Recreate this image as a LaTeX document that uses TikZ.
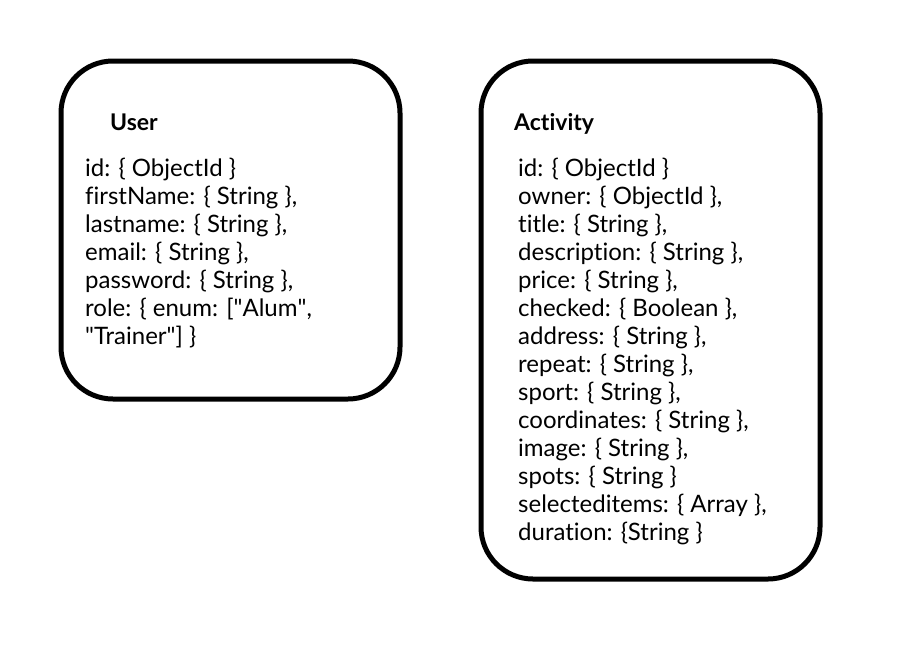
\documentclass[tikz,border=0pt]{standalone}
\usepackage{fontspec}
\setmainfont{Lato}[Ligatures={TeX,NoCommon}]
\usepackage{tikz}
\usetikzlibrary{positioning}

\tikzset{
  schemabox/.style={draw, line width=5pt, rounded corners=52pt, outer sep=0pt, inner sep=0pt, anchor=north west},
  schematitle/.style={anchor=base west, inner sep=0pt, font=\fontsize{23}{28}\selectfont\bfseries},
  schemafields/.style={anchor=base west, inner sep=0pt, align=left, font=\fontsize{24}{28}\selectfont}
}

\begin{document}
\begin{tikzpicture}[x=1pt, y=-1pt]
        \useasboundingbox (0, 0) rectangle (902, 662);
        % User
        \node (user) [schemabox, minimum width=339pt, minimum height=338pt] at (61, 61) {};
        \node (usertitle) [schematitle] at (110, 130) {User};
        % fields, placed by the baseline of their last line
        \node (userfields) [schemafields] at (85, 344) {id: \{ ObjectId \}\\
            firstName: \{ String \},\\
            lastname: \{ String \},\\
            email: \{ String \},\\
            password: \{ String \},\\
            role: \{ enum: [\textquotedbl Alum\textquotedbl,\\
            \textquotedbl Trainer\textquotedbl] \}};
        % Activity
        \node (activity) [schemabox, minimum width=339pt, minimum height=518pt] at (481, 61) {};
        \node (activitytitle) [schematitle] at (514, 130) {Activity};
        \node (activityfields) [schemafields] at (518, 540) {id: \{ ObjectId \}\\
            owner: \{ ObjectId \},\\
            title: \{ String \},\\
            description: \{ String \},\\
            price: \{ String \},\\
            checked: \{ Boolean \},\\
            address: \{ String \},\\
            repeat: \{ String \},\\
            sport: \{ String \},\\
            coordinates: \{ String \},\\
            image: \{ String \},\\
            spots: \{ String \}\\
            selecteditems: \{ Array \},\\
            duration: \{String \}};
    \end{tikzpicture}
\end{document}
